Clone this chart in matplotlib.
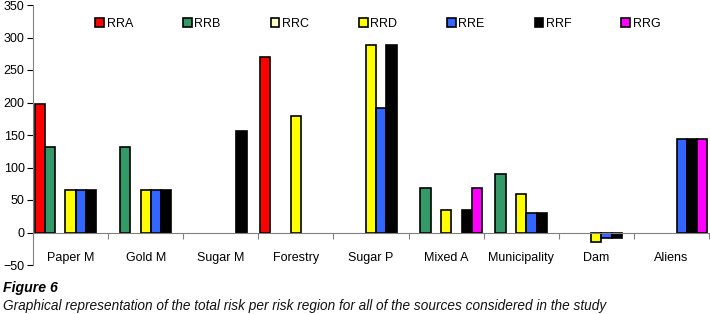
import matplotlib
matplotlib.use("Agg")
import matplotlib.pyplot as plt
import numpy as np
from matplotlib.patches import Patch

plt.rcParams['font.family'] = ['Liberation Sans', 'DejaVu Sans']

categories = ["Paper M", "Gold M", "Sugar M", "Forestry", "Sugar P", "Mixed A", "Municipality", "Dam", "Aliens"]
series_names = ["RRA", "RRB", "RRC", "RRD", "RRE", "RRF", "RRG"]
RRA = [198, 0, 0, 270, 0, 0, 0, 0, 0]
RRB = [132, 132, 0, 0, 0, 68, 90, 0, 0]
RRC = [0, 0, 0, 0, 0, 0, 0, 0, 0]
RRD = [66, 66, 0, 180, 288, 34, 60, -15, 0]
RRE = [66, 66, 0, 0, 192, 0, 30, -8, 144]
RRF = [66, 66, 156, 0, 288, 34, 30, -8, 144]
RRG = [0, 0, 0, 0, 0, 68, 0, 0, 144]
colors = ["#ff0000", "#339966", "#ffffcc", "#ffff00", "#3366ff", "#000000", "#ff00ff"]
yticks = [-50, 0, 50, 100, 150, 200, 250, 300, 350]

data = [RRA, RRB, RRC, RRD, RRE, RRF, RRG]

fig = plt.figure(figsize=(7.1, 3.14), dpi=100)
ax = fig.add_axes([33/710, 49/314, 676/710, 260/314])

n = len(series_names)
w = 0.96 / n
x = np.arange(len(categories))
for i, (vals, c) in enumerate(zip(data, colors)):
    v = np.array(vals, dtype=float)
    mask = v != 0
    ax.bar(x[mask] + (i - (n - 1) / 2) * w, v[mask], width=w, color=c,
           edgecolor='black', linewidth=1.2)

ax.set_xlim(-0.5, len(categories) - 0.5)
ax.set_ylim(-50, 350)
ax.set_yticks(yticks)
ax.tick_params(axis='y', labelsize=9, length=4, direction='out', pad=2)
for s in ['top', 'right']:
    ax.spines[s].set_visible(False)
ax.spines['bottom'].set_position(('data', 0))
ax.spines['left'].set_color('#808080')
ax.spines['bottom'].set_color('#808080')
ax.set_xticks(np.arange(len(categories) + 1) - 0.5)
ax.set_xticklabels([])
ax.tick_params(axis='x', which='major', length=4, direction='out', color='#808080')
ax.set_xticks(x, minor=True)
ax.set_xticklabels(categories, minor=True, fontsize=9)
ax.tick_params(axis='x', which='minor', length=0, pad=14)

handles = [Patch(facecolor=c, edgecolor='black', linewidth=1.2) for c in colors]
ax.legend(handles, series_names, loc='upper center', bbox_to_anchor=(0.51, 0.995),
          ncol=7, frameon=False, fontsize=9, handlelength=0.7, handleheight=0.7,
          handletextpad=0.2, columnspacing=4.0, bbox_transform=ax.transAxes)

fig.text(3/710, 1 - 288/314, "Figure 6", fontsize=10.2, fontweight='bold', style='italic', va='center')
fig.text(3/710, 1 - 306/314,
         "Graphical representation of the total risk per risk region for all of the sources considered in the study",
         fontsize=9.8, style='italic', va='center', color='#111111')

fig.savefig("out.png", dpi=100)
